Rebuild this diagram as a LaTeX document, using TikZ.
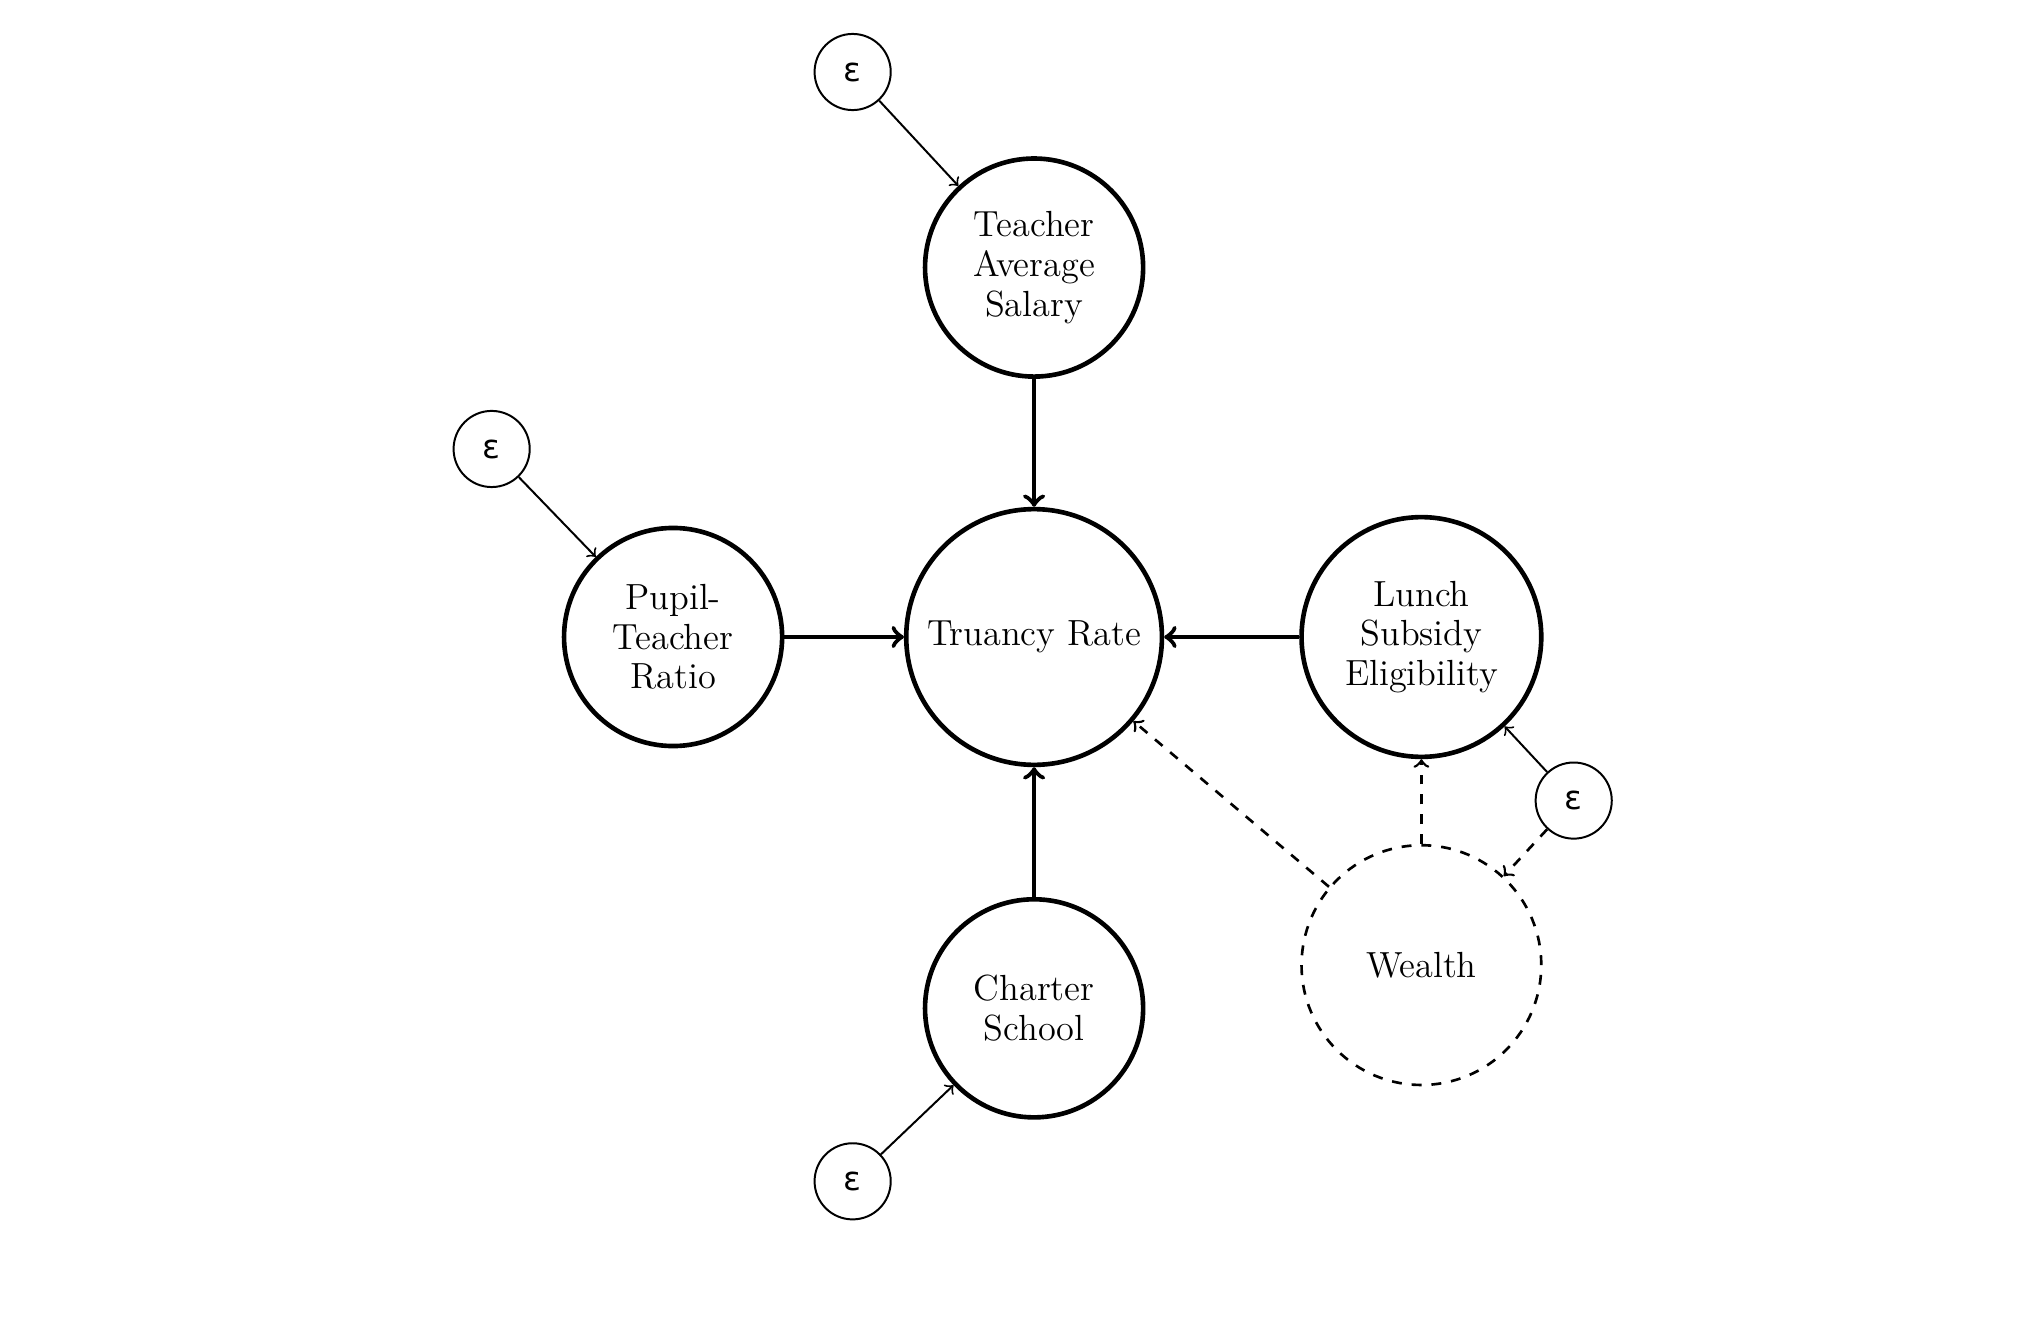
\documentclass[tikz,border=0pt]{standalone}
\usepackage{fontspec}
\newfontfamily\epsfont{DejaVu Sans}
\usepackage{tikz}
\usetikzlibrary{positioning, calc}

\begin{document}
\begin{tikzpicture}[
    var/.style={
        circle, draw=black, line width=1.4pt, fill=white,
        minimum size=2.32cm, inner sep=1pt,
        align=center, font=\fontsize{11}{12}\selectfont
    },
    latent/.style={
        circle, draw=black, thick, dashed, fill=white,
        minimum size=2.55cm, inner sep=1pt,
        align=center, font=\fontsize{11}{12}\selectfont
    },
    noise/.style={
        circle, draw=black, semithick,
        minimum size=0.81cm, inner sep=0pt,
        font=\epsfont
    },
    cause/.style={->, line width=1.4pt},
    err/.style={->, semithick},
    hidden/.style={->, thick, dashed}
]
\useasboundingbox (-11.0, -7.266) rectangle (10.70, 6.776);

% 1. Outcome (Center)
\node[var, minimum size=2.72cm] (truancy) at (0, 0) {Truancy Rate};

% 2. Causes around the outcome
\node[var] (salary) at (0, 3.93) {Teacher\\Average\\Salary};
\node[var] (pupil) at (-3.84, 0) {Pupil-\\Teacher\\Ratio};
\node[var, minimum size=2.55cm] (lunch) at (4.12, 0) {Lunch\\Subsidy\\Eligibility};
\node[var] (charter) at (0, -3.95) {Charter\\School};

% 3. Unobserved confounder
\node[latent] (wealth) at (4.12, -3.49) {Wealth};

% 4. Error terms
\node[noise] (epssalary) at (-1.93, 6.01) {ε};
\node[noise] (epspupil) at (-5.77, 2.0) {ε};
\node[noise] (epscharter) at (-1.93, -5.79) {ε};
\node[noise] (epslunch) at (5.74, -1.74) {ε};

% 5. Relationships
\draw[cause] (salary) -- (truancy);
\draw[cause] (pupil) -- (truancy);
\draw[cause] (lunch) -- (truancy);
\draw[cause] (charter) -- (truancy);

\draw[hidden] (wealth) -- (truancy);
\draw[hidden] (wealth) -- (lunch);
\draw[hidden] (epslunch) -- (wealth);

\draw[err] (epssalary) -- (salary);
\draw[err] (epspupil) -- (pupil);
\draw[err] (epscharter) -- (charter);
\draw[err] (epslunch) -- (lunch);

\end{tikzpicture}
\end{document}
